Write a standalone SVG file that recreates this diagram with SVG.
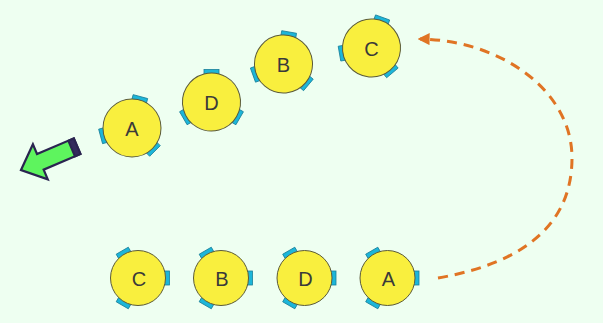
<svg xmlns="http://www.w3.org/2000/svg" xmlns:xlink="http://www.w3.org/1999/xlink" width="603" height="323" viewBox="0 0 603 323">
  <style>
    .tab { fill: #1cb6d9; stroke: #1a7f99; stroke-width: 0.8; }
    .seat { fill: #f9ef3e; stroke: #5a5a3a; stroke-width: 1; }
    .lbl { font-family: "Liberation Sans", Arial, sans-serif; font-size: 20px; fill: #3a3a3a; text-anchor: middle; dominant-baseline: central; }
    .path { fill: none; stroke: #e07424; stroke-width: 3; stroke-dasharray: 10 7; }
  </style>
  <defs>
    <!-- three tabs around a seat, for the small and large radius -->
    <g id="tabs-s">
      <rect class="tab" x="25.5" y="-7" width="6" height="14"/>
      <rect class="tab" x="25.5" y="-7" width="6" height="14" transform="rotate(120)"/>
      <rect class="tab" x="25.5" y="-7" width="6" height="14" transform="rotate(240)"/>
    </g>
    <g id="tabs-l">
      <rect class="tab" x="26.5" y="-7.5" width="6" height="15"/>
      <rect class="tab" x="26.5" y="-7.5" width="6" height="15" transform="rotate(120)"/>
      <rect class="tab" x="26.5" y="-7.5" width="6" height="15" transform="rotate(240)"/>
    </g>
    <marker id="head" viewBox="0 0 10 10" refX="8" refY="5" markerWidth="4" markerHeight="4" orient="auto" markerUnits="strokeWidth">
      <path d="M0,0 L10,5 L0,10 Z" fill="#e07424"/>
    </marker>
  </defs>

  <rect width="603" height="323" fill="#eefff1"/>

  <!-- moving row -->
  <g id="top-a">
    <g transform="translate(132,128) rotate(45)"><use xlink:href="#tabs-l"/><circle class="seat" r="29"/></g>
    <text class="lbl" x="132" y="129">A</text>
  </g>
  <g id="top-d">
    <g transform="translate(211.5,102) rotate(30)"><use xlink:href="#tabs-l"/><circle class="seat" r="29"/></g>
    <text class="lbl" x="211.5" y="103">D</text>
  </g>
  <g id="top-b">
    <g transform="translate(283.5,64) rotate(40)"><use xlink:href="#tabs-l"/><circle class="seat" r="29"/></g>
    <text class="lbl" x="283.5" y="65">B</text>
  </g>
  <g id="top-c">
    <g transform="translate(371.5,48) rotate(50)"><use xlink:href="#tabs-l"/><circle class="seat" r="29"/></g>
    <text class="lbl" x="371.5" y="49">C</text>
  </g>

  <!-- starting row -->
  <g id="bottom-c">
    <g transform="translate(138,278)"><use xlink:href="#tabs-s"/><circle class="seat" r="27.5"/></g>
    <text class="lbl" x="139" y="279">C</text>
  </g>
  <g id="bottom-b">
    <g transform="translate(221,278)"><use xlink:href="#tabs-s"/><circle class="seat" r="27.5"/></g>
    <text class="lbl" x="222" y="279">B</text>
  </g>
  <g id="bottom-d">
    <g transform="translate(304.5,278)"><use xlink:href="#tabs-s"/><circle class="seat" r="27.5"/></g>
    <text class="lbl" x="305.5" y="279">D</text>
  </g>
  <g id="bottom-a">
    <g transform="translate(387.5,278)"><use xlink:href="#tabs-s"/><circle class="seat" r="27.5"/></g>
    <text class="lbl" x="388.5" y="279">A</text>
  </g>

  <!-- direction arrow -->
  <g id="exit-arrow" transform="translate(21,170) rotate(-23)">
    <path d="M0,0 L21,-19 L21,-8.5 L61,-8.5 L61,8.5 L21,8.5 L21,19 Z" fill="#5ef45e" stroke="#2a2450" stroke-width="2.2" stroke-linejoin="miter"/>
    <rect x="55" y="-8.5" width="6" height="17" fill="#332a5c" stroke="#2a2450" stroke-width="2"/>
  </g>

  <g id="connectors">
    <path class="path" d="M438,278 C530,262 572,220 572,158 C572,90 500,40 420,39" marker-end="url(#head)"/>
  </g>
</svg>
